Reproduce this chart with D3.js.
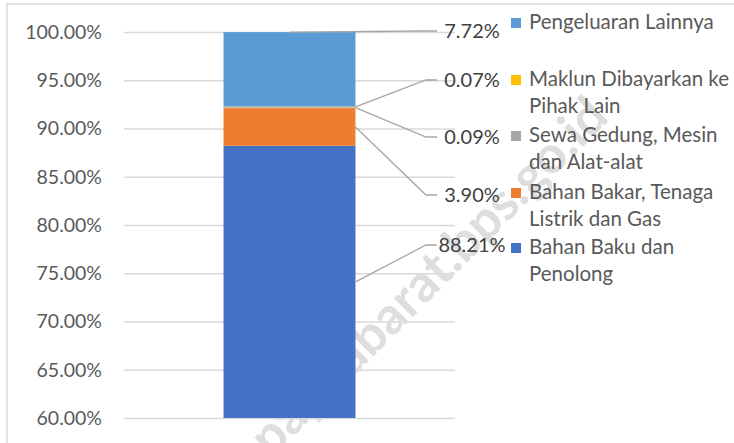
<!DOCTYPE html>
<html>
<head>
<meta charset="utf-8">
<script src="https://cdn.jsdelivr.net/npm/d3@7"></script>
<style>
  body { margin: 0; background: #fff; }
  svg { display: block; font-family: Lato, "Open Sans", sans-serif; }
</style>
</head>
<body>
<div id="chart"></div>
<script>
var svgWidth = 734;
var svgHeight = 443;

// data, bottom of stack first
var category = ["2020"];
var seriesNames = [
  "Bahan Baku dan Penolong",
  "Bahan Bakar, Tenaga Listrik dan Gas",
  "Sewa Gedung, Mesin dan Alat-alat",
  "Maklun Dibayarkan ke Pihak Lain",
  "Pengeluaran Lainnya"
];
var seriesValues = [88.21, 3.90, 0.09, 0.07, 7.72];
var legendLines = [
  ["Bahan Baku dan", "Penolong"],
  ["Bahan Bakar, Tenaga", "Listrik dan Gas"],
  ["Sewa Gedung, Mesin", "dan Alat-alat"],
  ["Maklun Dibayarkan ke", "Pihak Lain"],
  ["Pengeluaran Lainnya"]
];
var colors = ["#4472C4", "#ED7D31", "#A5A5A5", "#FFC000", "#5B9BD5"];
var yTicks = [60, 65, 70, 75, 80, 85, 90, 95, 100];

// layout
var plot = { left: 124, right: 455, top: 32, bottom: 418 };
var labelX = 472, elbowX = 426;
var labelY = [245, 195, 137, 80, 31];   // per series, same order as data
var legendY = [247, 192, 135, 79, 22];
var legendX = 511;

var svg = d3.select("#chart")
  .append("svg")
  .attr("width", svgWidth)
  .attr("height", svgHeight);

// chart area border
svg.append("rect")
  .attr("x", 7).attr("y", 4)
  .attr("width", 760).attr("height", 460)
  .attr("fill", "#fff")
  .attr("stroke", "#d9d9d9")
  .attr("stroke-width", 1.5);

var y = d3.scaleLinear()
  .domain([60, 100])
  .range([plot.bottom, plot.top]);

var x = d3.scaleBand()
  .domain(category)
  .range([plot.left, plot.right])
  .padding(0.43);

// gridlines + tick labels
var yAxis = d3.axisLeft(y)
  .tickValues(yTicks)
  .tickSize(-(plot.right - plot.left))
  .tickPadding(22)
  .tickFormat(d => d.toFixed(2) + "%");

var axisG = svg.append("g")
  .attr("transform", "translate(" + plot.left + ",0)")
  .call(yAxis);
axisG.select(".domain").remove();
axisG.selectAll("line").attr("stroke", "#d9d9d9").attr("stroke-width", 1.5);
axisG.selectAll("text")
  .attr("fill", "#595959")
  .style("font-size", "19.5px")
  .style("font-family", "Lato, sans-serif");

// watermark (sits behind the bar)
svg.append("text")
  .attr("transform", "translate(428,276) rotate(-45)")
  .attr("text-anchor", "middle")
  .attr("dy", "0.35em")
  .attr("fill", "#dedede")
  .style("font-size", "52px")
  .style("font-weight", "bold")
  .text("papuabarat.bps.go.id");

// stacked bar
var row = {};
seriesNames.forEach((s, i) => row[s] = seriesValues[i]);
var stacked = d3.stack().keys(seriesNames)([row]);

svg.selectAll(".seg")
  .data(stacked)
  .enter()
  .append("rect")
  .attr("class", "seg")
  .attr("x", x(category[0]))
  .attr("width", x.bandwidth())
  .attr("y", d => y(Math.min(100, d[0][1])))
  .attr("height", d => y(Math.max(60, d[0][0])) - y(Math.min(100, d[0][1])))
  .attr("fill", (d, i) => colors[i]);

// leader lines
function anchor(d, i) {
  var lo = Math.max(60, d[0][0]), hi = Math.min(100, d[0][1]);
  if (i === seriesNames.length - 1) {
    return [x(category[0]) + x.bandwidth() / 2, y(hi)];
  }
  return [x(category[0]) + x.bandwidth(), y((lo + hi) / 2)];
}

svg.selectAll(".leader")
  .data(stacked)
  .enter()
  .append("polyline")
  .attr("class", "leader")
  .attr("fill", "none")
  .attr("stroke", "#a6a6a6")
  .attr("stroke-width", 1.3)
  .attr("points", (d, i) => {
    var a = anchor(d, i);
    return [a, [elbowX, labelY[i]], [labelX - 35, labelY[i]]].map(p => p.join(",")).join(" ");
  });

// data labels
svg.selectAll(".dlabel")
  .data(stacked)
  .enter()
  .append("text")
  .attr("class", "dlabel")
  .attr("x", labelX)
  .attr("y", (d, i) => labelY[i])
  .attr("dy", "0.35em")
  .attr("text-anchor", "middle")
  .attr("fill", "#404040")
  .style("font-size", "20px")
  .text((d, i) => seriesValues[i].toFixed(2) + "%");

// legend
var legend = svg.selectAll(".legend")
  .data(seriesNames)
  .enter()
  .append("g")
  .attr("class", "legend")
  .attr("transform", (d, i) => "translate(" + legendX + "," + legendY[i] + ")");

legend.append("rect")
  .attr("x", 0).attr("y", -4)
  .attr("width", 10).attr("height", 10)
  .attr("fill", (d, i) => colors[i]);

legend.append("text")
  .attr("x", 18)
  .attr("fill", "#595959")
  .style("font-size", "20.5px")
  .selectAll("tspan")
  .data((d, i) => legendLines[i])
  .enter()
  .append("tspan")
  .attr("x", 18)
  .attr("dy", (d, j) => j === 0 ? "0.35em" : "27px")
  .text(d => d);
</script>
</body>
</html>
